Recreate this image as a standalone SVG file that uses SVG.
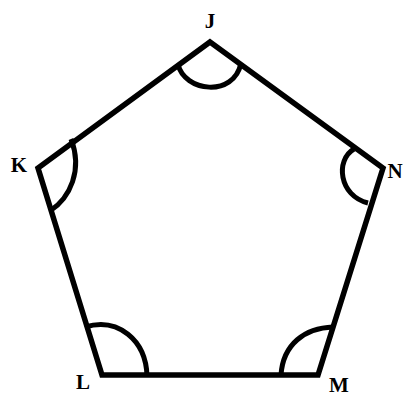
<svg xmlns="http://www.w3.org/2000/svg" width="404" height="396" viewBox="0 0 404 396">
<style>
.edge{fill:none;stroke:#000;stroke-width:5.5;stroke-linejoin:miter;stroke-linecap:butt}
.arc{fill:none;stroke:#000;stroke-width:5;stroke-linecap:butt}
.lbl{font-family:"Liberation Serif",serif;font-weight:bold;font-size:21px;fill:#000}
</style>
<rect width="404" height="396" fill="#fff"/>
<g id="connectors">
<polygon class="edge" points="210,42 383,168 318,375 102,375 38,168"/>
</g>
<g id="J"><path class="arc" d="M178,64 C184,92 234,98 241,63"/><text class="lbl" x="210" y="28" text-anchor="middle">J</text></g>
<g id="K"><path class="arc" d="M71,139 C83,170 70,198 50,211"/><text class="lbl" x="19" y="172" text-anchor="middle">K</text></g>
<g id="N"><path class="arc" d="M354,149 C335,160 339,196 368,203"/><text class="lbl" x="395" y="178" text-anchor="middle">N</text></g>
<g id="L"><path class="arc" d="M85,327 C118,317 146,340 147,376"/><text class="lbl" x="83" y="389" text-anchor="middle">L</text></g>
<g id="M"><path class="arc" d="M281,375 C283,344 305,328 333,327"/><text class="lbl" x="339" y="392" text-anchor="middle">M</text></g>
</svg>
